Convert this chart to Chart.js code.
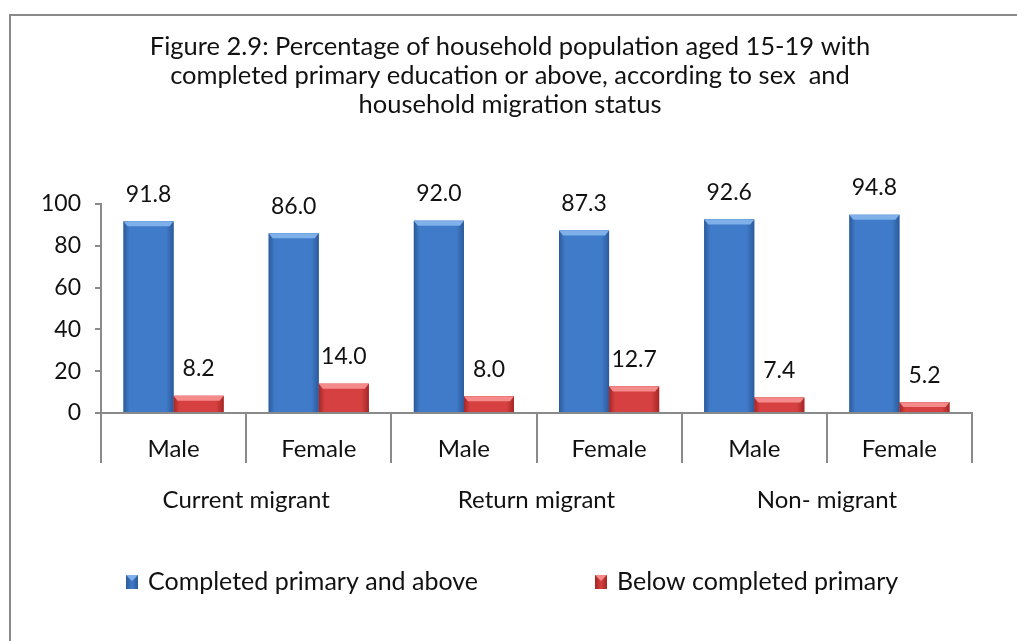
<!DOCTYPE html>
<html>
<head>
<meta charset="utf-8">
<script src="https://cdn.jsdelivr.net/npm/chart.js@4"></script>
<style>
  html, body { margin: 0; padding: 0; background: #fff; }
  #wrap { position: relative; width: 1017px; height: 641px; }
</style>
</head>
<body>
<div id="wrap"><canvas id="chart"></canvas></div>
<script>
// ===== Figure 2.9 — primary education by sex and migration status =====

const groups = ['Current migrant', 'Return migrant', 'Non- migrant'];
const sexes = ['Male', 'Female', 'Male', 'Female', 'Male', 'Female'];
const completed = [91.8, 86.0, 92.0, 87.3, 92.6, 94.8];
const below = [8.2, 14.0, 8.0, 12.7, 7.4, 5.2];
const yTicks = [0, 20, 40, 60, 80, 100];
const seriesNames = ['Completed primary and above', 'Below completed primary'];
const titleLines = [
  'Figure 2.9: Percentage of household population aged 15-19 with',
  'completed primary education or above, according to sex  and',
  'household migration status'
];

const FONT = "Lato, 'Open Sans', sans-serif";
const AXIS = '#8a8a8a';
const SHADES = {
  blue: { dark: '#2c5a9a', mid: '#3f7bc8', light: '#7fb0ea' },
  red:  { dark: '#a42626', mid: '#d64040', light: '#f58a8a' }
};

// frame, title, bevel, labels, separators, legend
const pluginDecor = {
  id: 'decor',
  beforeDraw(chart) {
    const { ctx } = chart;
    ctx.save();
    ctx.strokeStyle = AXIS;
    ctx.lineWidth = 2;
    ctx.strokeRect(10, 15, 1030, 660);
    ctx.fillStyle = '#111';
    ctx.textAlign = 'center';
    ctx.textBaseline = 'middle';
    ctx.font = `25.5px ${FONT}`;
    titleLines.forEach((t, i) => ctx.fillText(t, 510, 47 + i * 29));
    ctx.restore();
  },
  afterDatasetsDraw(chart) {
    const { ctx } = chart;
    const keys = ['blue', 'red'];
    ctx.save();
    chart.data.datasets.forEach((ds, di) => {
      const meta = chart.getDatasetMeta(di);
      const s = SHADES[keys[di]];
      meta.data.forEach((bar, i) => {
        const l = bar.x - bar.width / 2, r = bar.x + bar.width / 2;
        const top = bar.y, bot = bar.base;
        const g = ctx.createLinearGradient(l, 0, r, 0);
        g.addColorStop(0, s.dark);
        g.addColorStop(0.12, s.mid);
        g.addColorStop(0.85, s.mid);
        g.addColorStop(1, s.dark);
        ctx.fillStyle = g;
        ctx.fillRect(l, top, r - l, bot - top);
        const bev = Math.min(5, (bot - top) / 2);
        ctx.fillStyle = s.light;
        ctx.beginPath();
        ctx.moveTo(l, top); ctx.lineTo(r, top);
        ctx.lineTo(r - 4, top + bev); ctx.lineTo(l + 4, top + bev);
        ctx.closePath(); ctx.fill();
        // value label
        ctx.fillStyle = '#111';
        ctx.font = `23px ${FONT}`;
        ctx.textAlign = 'center';
        ctx.textBaseline = 'middle';
        ctx.fillText(ds.data[i].toFixed(1), bar.x, top - 27);
      });
    });
    // category separators below the axis
    const xs = chart.scales.x;
    ctx.strokeStyle = AXIS;
    ctx.lineWidth = 2;
    for (let i = 0; i <= sexes.length; i++) {
      const px = Math.round(xs.getPixelForValue(i - 0.5));
      ctx.beginPath();
      ctx.moveTo(px, xs.top);
      ctx.lineTo(px, xs.top + 50);
      ctx.stroke();
    }
    // legend
    const items = [[126, seriesNames[0], SHADES.blue], [595, seriesNames[1], SHADES.red]];
    ctx.font = `25px ${FONT}`;
    ctx.textAlign = 'left';
    ctx.textBaseline = 'middle';
    items.forEach(([x, txt, s]) => {
      const g = ctx.createLinearGradient(x, 0, x + 12, 0);
      g.addColorStop(0, s.dark); g.addColorStop(0.5, s.mid); g.addColorStop(1, s.dark);
      ctx.fillStyle = g;
      ctx.fillRect(x, 575, 12, 14);
      ctx.fillStyle = s.light;
      ctx.beginPath();
      ctx.moveTo(x, 575); ctx.lineTo(x + 12, 575); ctx.lineTo(x + 6, 581); ctx.closePath(); ctx.fill();
      ctx.fillStyle = '#111';
      ctx.fillText(txt, x + 22, 582);
    });
    ctx.restore();
  }
};

new Chart(document.getElementById('chart'), {
  type: 'bar',
  data: {
    labels: sexes,
    datasets: [
      { label: seriesNames[0], data: completed, backgroundColor: SHADES.blue.mid, xAxisID: 'x' },
      { label: seriesNames[1], data: below, backgroundColor: SHADES.red.mid, xAxisID: 'x' }
    ]
  },
  plugins: [pluginDecor],
  options: {
    responsive: true, maintainAspectRatio: false, animation: false,
    categoryPercentage: 0.69, barPercentage: 1,
    layout: { padding: { top: 204, right: 45, bottom: 111, left: 0 } },
    plugins: { legend: { display: false }, tooltip: { enabled: false } },
    scales: {
      x: {
        position: 'bottom',
        afterFit: s => { s.height = 50; },
        grid: { display: false },
        border: { color: AXIS, width: 2 },
        ticks: { color: '#111', font: { size: 24, family: FONT }, padding: 14 }
      },
      x2: {
        type: 'category',
        labels: groups,
        position: 'bottom',
        offset: true,
        afterFit: s => { s.height = 67; },
        grid: { display: false },
        border: { display: false },
        ticks: { color: '#111', font: { size: 24, family: FONT }, padding: 15 }
      },
      y: {
        min: 0, max: 100,
        afterFit: s => { s.width = 101; },
        afterBuildTicks: s => { s.ticks = yTicks.map(v => ({ value: v })); },
        grid: { drawOnChartArea: false, tickLength: 6, color: AXIS, lineWidth: 2 },
        border: { color: AXIS, width: 2 },
        ticks: { color: '#111', font: { size: 23, family: FONT }, padding: 14, autoSkip: false }
      }
    }
  }
});
</script>
</body>
</html>
